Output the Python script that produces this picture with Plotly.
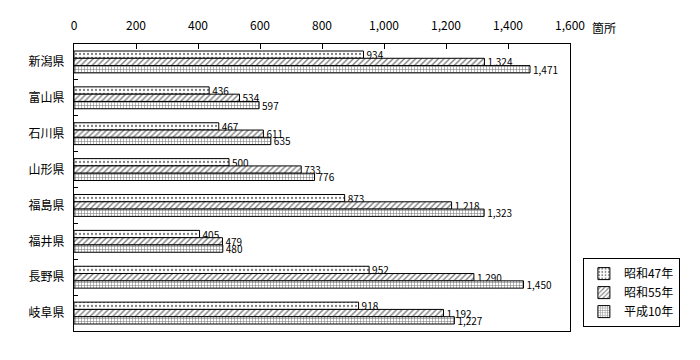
import plotly.graph_objects as go

prefectures = ["新潟県", "富山県", "石川県", "山形県", "福島県", "福井県", "長野県", "岐阜県"]
series_names = ["昭和47年", "昭和55年", "平成10年"]
s47 = [934, 436, 467, 500, 873, 405, 952, 918]
s55 = [1324, 534, 611, 733, 1218, 479, 1290, 1192]
h10 = [1471, 597, 635, 776, 1323, 480, 1450, 1227]
x_ticks = [0, 200, 400, 600, 800, 1000, 1200, 1400, 1600]

FONT = "Noto Sans CJK JP"
patterns = [
    dict(shape=".", size=4, solidity=0.25, fgcolor="black", bgcolor="white", fillmode="overlay"),
    dict(shape="/", size=4, solidity=0.35, fgcolor="black", bgcolor="white", fillmode="overlay"),
    dict(shape="+", size=3, solidity=0.35, fgcolor="black", bgcolor="white", fillmode="overlay"),
]

fig = go.Figure()
for name, vals, pat in zip(series_names, [s47, s55, h10], patterns):
    fig.add_trace(go.Bar(
        y=prefectures, x=vals, name=name, orientation="h",
        marker=dict(color="white", pattern=pat, line=dict(color="black", width=1)),
        texttemplate="%{x:,}", textposition="outside", constraintext="none",
        textfont=dict(family=FONT, size=10, color="black"),
        cliponaxis=False,
    ))

fig.update_layout(
    width=692, height=352,
    margin=dict(l=66, r=130, t=36, b=29),
    paper_bgcolor="white", plot_bgcolor="white",
    barmode="group", bargap=0.39, bargroupgap=0,
    font=dict(family=FONT, size=12, color="black"),
    legend=dict(
        x=1.026, y=0.254, xanchor="left", yanchor="top",
        bordercolor="black", borderwidth=1, bgcolor="white",
        font=dict(family=FONT, size=12), traceorder="normal",
        itemwidth=30,
    ),
    xaxis=dict(
        side="top", range=[0, 1600], tickvals=x_ticks, tickformat=",",
        ticks="inside", ticklen=5, tickcolor="black",
        showline=True, linecolor="black", linewidth=1, mirror=True,
        showgrid=False, zeroline=False, automargin=False,
        ticklabelstandoff=8,
        tickfont=dict(family=FONT, size=12),
    ),
    yaxis=dict(
        autorange="reversed", tickson="boundaries",
        ticks="inside", ticklen=4, tickcolor="black",
        showline=True, linecolor="black", linewidth=1, mirror=True,
        showgrid=False, automargin=False, ticklabelstandoff=6,
        tickfont=dict(family=FONT, size=12),
    ),
    annotations=[dict(
        text="箇所", xref="paper", yref="paper", x=1.04, y=1.0,
        xanchor="left", yanchor="middle", yshift=17, showarrow=False,
        font=dict(family=FONT, size=12),
    )],
)

fig.write_html("out.html")
